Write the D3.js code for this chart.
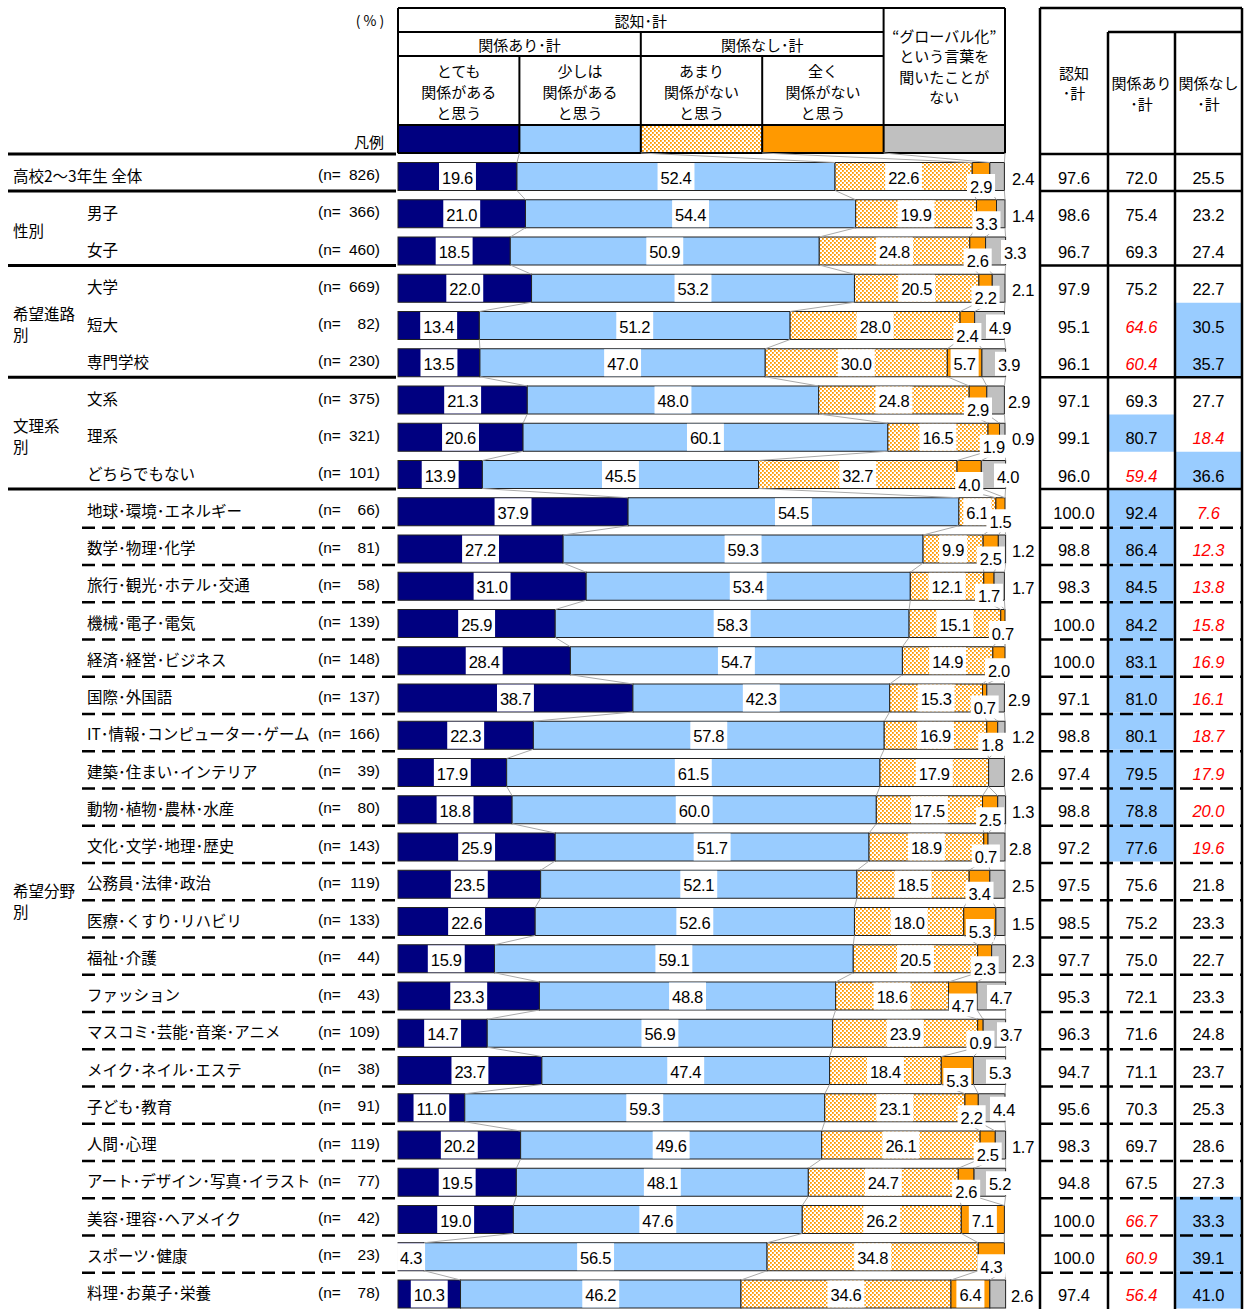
<!DOCTYPE html>
<html><head><meta charset="utf-8">
<script src="https://cdn.jsdelivr.net/npm/d3@7"></script>
<style>body{margin:0;background:#fff} svg{display:block}</style>
</head><body><svg id="c" width="1248" height="1309"></svg>
<script>
// ---------------- data ----------------
const rowLabels = ["高校2～3年生 全体","男子","女子","大学","短大","専門学校","文系","理系","どちらでもない","地球･環境･エネルギー","数学･物理･化学","旅行･観光･ホテル･交通","機械･電子･電気","経済･経営･ビジネス","国際･外国語","IT･情報･コンピューター･ゲーム","建築･住まい･インテリア","動物･植物･農林･水産","文化･文学･地理･歴史","公務員･法律･政治","医療･くすり･リハビリ","福祉･介護","ファッション","マスコミ･芸能･音楽･アニメ","メイク･ネイル･エステ","子ども･教育","人間･心理","アート･デザイン･写真･イラスト","美容･理容･ヘアメイク","スポーツ･健康","料理･お菓子･栄養"];
const sampleSizes = [826,366,460,669,82,230,375,321,101,66,81,58,139,148,137,166,39,80,143,119,133,44,43,109,38,91,119,77,42,23,78];
const veryRelated     = [19.6,21.0,18.5,22.0,13.4,13.5,21.3,20.6,13.9,37.9,27.2,31.0,25.9,28.4,38.7,22.3,17.9,18.8,25.9,23.5,22.6,15.9,23.3,14.7,23.7,11.0,20.2,19.5,19.0,4.3,10.3];
const somewhatRelated = [52.4,54.4,50.9,53.2,51.2,47.0,48.0,60.1,45.5,54.5,59.3,53.4,58.3,54.7,42.3,57.8,61.5,60.0,51.7,52.1,52.6,59.1,48.8,56.9,47.4,59.3,49.6,48.1,47.6,56.5,46.2];
const notVeryRelated  = [22.6,19.9,24.8,20.5,28.0,30.0,24.8,16.5,32.7,6.1,9.9,12.1,15.1,14.9,15.3,16.9,17.9,17.5,18.9,18.5,18.0,20.5,18.6,23.9,18.4,23.1,26.1,24.7,26.2,34.8,34.6];
const notAtAllRelated = [2.9,3.3,2.6,2.2,2.4,5.7,2.9,1.9,4.0,1.5,2.5,1.7,0.7,2.0,0.7,1.8,0,2.5,0.7,3.4,5.3,2.3,4.7,0.9,5.3,2.2,2.5,2.6,7.1,4.3,6.4];
const neverHeard      = [2.4,1.4,3.3,2.1,4.9,3.9,2.9,0.9,4.0,0,1.2,1.7,0,0,2.9,1.2,2.6,1.3,2.8,2.5,1.5,2.3,4.7,3.7,5.3,4.4,1.7,5.2,0,0,2.6];
const awareTotal      = [97.6,98.6,96.7,97.9,95.1,96.1,97.1,99.1,96.0,100.0,98.8,98.3,100.0,100.0,97.1,98.8,97.4,98.8,97.2,97.5,98.5,97.7,95.3,96.3,94.7,95.6,98.3,94.8,100.0,100.0,97.4];
const relatedTotal    = [72.0,75.4,69.3,75.2,64.6,60.4,69.3,80.7,59.4,92.4,86.4,84.5,84.2,83.1,81.0,80.1,79.5,78.8,77.6,75.6,75.2,75.0,72.1,71.6,71.1,70.3,69.7,67.5,66.7,60.9,56.4];
const unrelatedTotal  = [25.5,23.2,27.4,22.7,30.5,35.7,27.7,18.4,36.6,7.6,12.3,13.8,15.8,16.9,16.1,18.7,17.9,20.0,19.6,21.8,23.3,22.7,23.3,24.8,23.7,25.3,28.6,27.3,33.3,39.1,41.0];
const legendValues = [20,20,20,20,20];
const seriesHeaders = [["とても","関係がある","と思う"],["少しは","関係がある","と思う"],["あまり","関係がない","と思う"],["全く","関係がない","と思う"],["“グローバル化”","という言葉を","聞いたことが","ない"]];
const groupNames = [["性別"],["希望進路","別"],["文理系","別"],["希望分野","別"]];
const groupRanges = [[1,2],[3,5],[6,8],[9,30]];

// ---------------- setup ----------------
const svg = d3.select("#c");
const JP = "'Noto Sans CJK JP','Noto Sans',sans-serif";
const NUM = "'Liberation Sans',Arial,sans-serif";
const defs = svg.append("defs");
const pat = defs.append("pattern").attr("id","dots").attr("patternUnits","userSpaceOnUse").attr("width",4).attr("height",4);
pat.append("rect").attr("width",4).attr("height",4).attr("fill","#fff");
pat.append("rect").attr("x",0).attr("y",0).attr("width",1.8).attr("height",1.8).attr("fill","#f90");
pat.append("rect").attr("x",2).attr("y",2).attr("width",1.8).attr("height",1.8).attr("fill","#f90");

const fills = ["#000080","#99ccff","url(#dots)","#ff9900","#c0c0c0"];
const x = d3.scaleLinear().domain([0,100]).range([398,1005]);
const rows = d3.range(rowLabels.length);
const y = d3.scalePoint().domain(rows).range([176.5, 176.5 + 30*37.25]);
const step = y.step();
const BH = 28;
const series = [veryRelated, somewhatRelated, notVeryRelated, notAtAllRelated, neverHeard];
const stacked = d3.stack().keys(d3.range(5)).value((i,k)=>series[k][i])(rows);
const legendStack = d3.cumsum(legendValues);

// ---------------- header (main) ----------------
const hdr = svg.append("g");
const legTop = 125, legBot = 153;
legendValues.forEach((v,k)=>{
  const x0 = x(k===0?0:legendStack[k-1]), x1 = x(legendStack[k]);
  hdr.append("rect").attr("x",x0).attr("y",legTop).attr("width",x1-x0).attr("height",legBot-legTop)
    .attr("fill",fills[k]).attr("stroke","#222").attr("stroke-width",1);
});
const L = (x1,y1,x2,y2,w)=>hdr.append("line").attr("x1",x1).attr("y1",y1).attr("x2",x2).attr("y2",y2).attr("stroke","#000").attr("stroke-width",w||2);
const hx = k=>x(legendStack[k]);
L(x(0),8,x(100),8); L(x(0),8,x(0),legBot); L(x(100),8,x(100),legBot);
L(x(0),32,hx(3),32); L(x(0),56,hx(3),56); L(x(0),legTop,x(100),legTop); L(x(0),legBot,x(100),legBot);
L(hx(3),8,hx(3),legBot); L(hx(1),32,hx(1),legBot); L(hx(0),56,hx(0),legBot); L(hx(2),56,hx(2),legBot);
const T = (g,txt,xx,yy,opt={})=>g.append("text").attr("x",xx).attr("y",yy).text(txt)
  .attr("font-family",opt.ff||JP).attr("font-size",opt.fs||15).attr("text-anchor",opt.anchor||"middle")
  .attr("dominant-baseline","central").attr("fill",opt.fill||"#000")
  .attr("font-style",opt.italic?"italic":null);
T(hdr,"認知･計",(x(0)+hx(3))/2,20);
T(hdr,"関係あり･計",(x(0)+hx(1))/2,44);
T(hdr,"関係なし･計",(hx(1)+hx(3))/2,44);
seriesHeaders.forEach((lines,k)=>{
  const cx = (x(k===0?0:legendStack[k-1]) + x(legendStack[k]))/2;
  const y0 = lines.length===3 ? 70 : 35;
  const dy = lines.length===3 ? 21 : 20.5;
  lines.forEach((ln,j)=>T(hdr,ln,cx,y0+j*dy));
});
T(hdr,"( % )",370,20,{fs:14});
T(hdr,"凡例",384,141,{anchor:"end",fs:15});

// ---------------- bars ----------------
const barsG = svg.append("g");
stacked.forEach((layer,k)=>{
  barsG.append("g").selectAll("rect").data(layer).join("rect")
    .attr("x",d=>x(d[0])).attr("width",d=>Math.max(0,x(d[1])-x(d[0])))
    .attr("y",(d,i)=>y(i)-BH/2).attr("height",BH)
    .attr("fill",fills[k]).attr("stroke",d=>d[1]-d[0]>0?"#222":"none").attr("stroke-width",1);
});

// series lines
const linesG = svg.append("g");
for (let k=0;k<5;k++){
  linesG.append("line").attr("x1",x(legendStack[k])).attr("y1",legBot).attr("x2",x(stacked[k][0][1])).attr("y2",y(0)-BH/2)
    .attr("stroke","#aaa").attr("stroke-width",1);
  for (let i=0;i<rows.length-1;i++){
    linesG.append("line").attr("x1",x(stacked[k][i][1])).attr("y1",y(i)+BH/2)
      .attr("x2",x(stacked[k][i+1][1])).attr("y2",y(i+1)-BH/2)
      .attr("stroke","#aaa").attr("stroke-width",1);
  }
}

// labels
const labG = svg.append("g");
function boxLabel(val,cx,cy,h){
  const g = labG.append("g");
  const r = g.append("rect").attr("fill","#fff");
  const t = g.append("text").attr("x",cx).attr("y",cy+1).text(val.toFixed(1))
    .attr("font-family",NUM).attr("font-size",16.5).attr("text-anchor","middle").attr("dominant-baseline","central").attr("letter-spacing",-0.3);
  const w = t.node().getComputedTextLength();
  r.attr("x",cx-w/2-3).attr("y",cy-h/2).attr("width",w+6).attr("height",h);
}
rows.forEach(i=>{
  const cy = y(i);
  for (let k=0;k<3;k++){
    const d = stacked[k][i];
    if (d[1]-d[0]>0) boxLabel(d[1]-d[0],(x(d[0])+x(d[1]))/2,cy,BH-1);
  }
  const o = stacked[3][i];
  const ov = o[1]-o[0];
  if (ov>0){
    if (ov>=5.5) boxLabel(ov,(x(o[0])+x(o[1]))/2,cy,BH-1);
    else boxLabel(ov,(x(o[0])+x(o[1]))/2,cy+9,23);
  }
  const gv = neverHeard[i];
  if (gv>0){
    const gx = Math.max(1000, 1023 - Math.max(0,gv-2.5)*10);
    boxLabel(gv,gx,cy+1,24);
  }
});

// ---------------- left labels ----------------
const left = svg.append("g");
rows.forEach(i=>{
  const cy = y(i)-2;
  T(left,rowLabels[i], i===0?13:87, cy,{anchor:"start",fs:15.5});
  T(left,"(n=",318,cy,{anchor:"start",ff:NUM,fs:15.5});
  T(left,sampleSizes[i]+")",380,cy,{anchor:"end",ff:NUM,fs:15.5});
});
groupNames.forEach((lines,g)=>{
  const [a,b] = groupRanges[g];
  const mid = (y(a)+y(b))/2 - 2;
  const lh = 21;
  lines.forEach((ln,j)=>T(left,ln,13,mid-(lines.length-1)*lh/2+j*lh,{anchor:"start",fs:15.5}));
});

// ---------------- right table ----------------
const tab = svg.append("g");
const cols = [1040,1108,1175,1242];
const colC = [1074,1141.5,1208.5];
rows.forEach(i=>{
  const cy = y(i);
  const bottom = cy + BH/2 + 0.5, top = bottom - step;
  const dr = relatedTotal[i]-relatedTotal[0], du = unrelatedTotal[i]-unrelatedTotal[0];
  if (i>0 && dr>=4.95) tab.append("rect").attr("x",cols[1]).attr("y",top).attr("width",cols[2]-cols[1]).attr("height",step).attr("fill","#99ccff");
  if (i>0 && du>=4.95) tab.append("rect").attr("x",cols[2]).attr("y",top).attr("width",cols[3]-cols[2]).attr("height",step).attr("fill","#99ccff");
  T(tab,awareTotal[i].toFixed(1),colC[0],cy+1,{ff:NUM,fs:16.5});
  const redR = i>0 && dr<=-4.95, redU = i>0 && du<=-4.95;
  T(tab,relatedTotal[i].toFixed(1),colC[1],cy+1,{ff:NUM,fs:16.5,fill:redR?"#ff0000":"#000",italic:redR});
  T(tab,unrelatedTotal[i].toFixed(1),colC[2],cy+1,{ff:NUM,fs:16.5,fill:redU?"#ff0000":"#000",italic:redU});
});
T(tab,"認知",colC[0],72,{fs:15}); T(tab,"･計",colC[0],92,{fs:15});
T(tab,"関係あり",colC[1],82,{fs:15}); T(tab,"･計",colC[1],103,{fs:15});
T(tab,"関係なし",colC[2],82,{fs:15}); T(tab,"･計",colC[2],103,{fs:15});

// ---------------- separators ----------------
const sep = svg.append("g");
const SL = (x1,x2,yy,w,dash)=>sep.append("line").attr("x1",x1).attr("x2",x2).attr("y1",yy).attr("y2",yy)
  .attr("stroke","#000").attr("stroke-width",w).attr("stroke-dasharray",dash||null);
SL(8,396,154,3); SL(cols[0],cols[3],154,2.5);
groupRanges.forEach(([a,b])=>{
  const yy = y(a-1)+BH/2+0.5;
  SL(8,396,yy,3); SL(cols[0],cols[3],yy,2.5);
});
const [fa,fb] = groupRanges[3];
for (let i=fa;i<fb;i++){
  const yy = y(i)+16;
  SL(82,396,yy,2.5,"13,7");
  SL(cols[0],cols[3],yy,2.5,"13,7");
}
const VL = (xx,y1,y2,w)=>sep.append("line").attr("x1",xx).attr("x2",xx).attr("y1",y1).attr("y2",y2).attr("stroke","#000").attr("stroke-width",w);
sep.append("line").attr("x1",cols[0]).attr("x2",cols[3]).attr("y1",8).attr("y2",8).attr("stroke","#000").attr("stroke-width",2.5);
sep.append("line").attr("x1",cols[1]).attr("x2",cols[3]).attr("y1",32).attr("y2",32).attr("stroke","#000").attr("stroke-width",2.5);
VL(cols[0],8,1309,2.5); VL(cols[3],8,1309,2.5); VL(cols[1],32,1309,2.5); VL(cols[2],32,1309,2.5);
</script></body></html>
